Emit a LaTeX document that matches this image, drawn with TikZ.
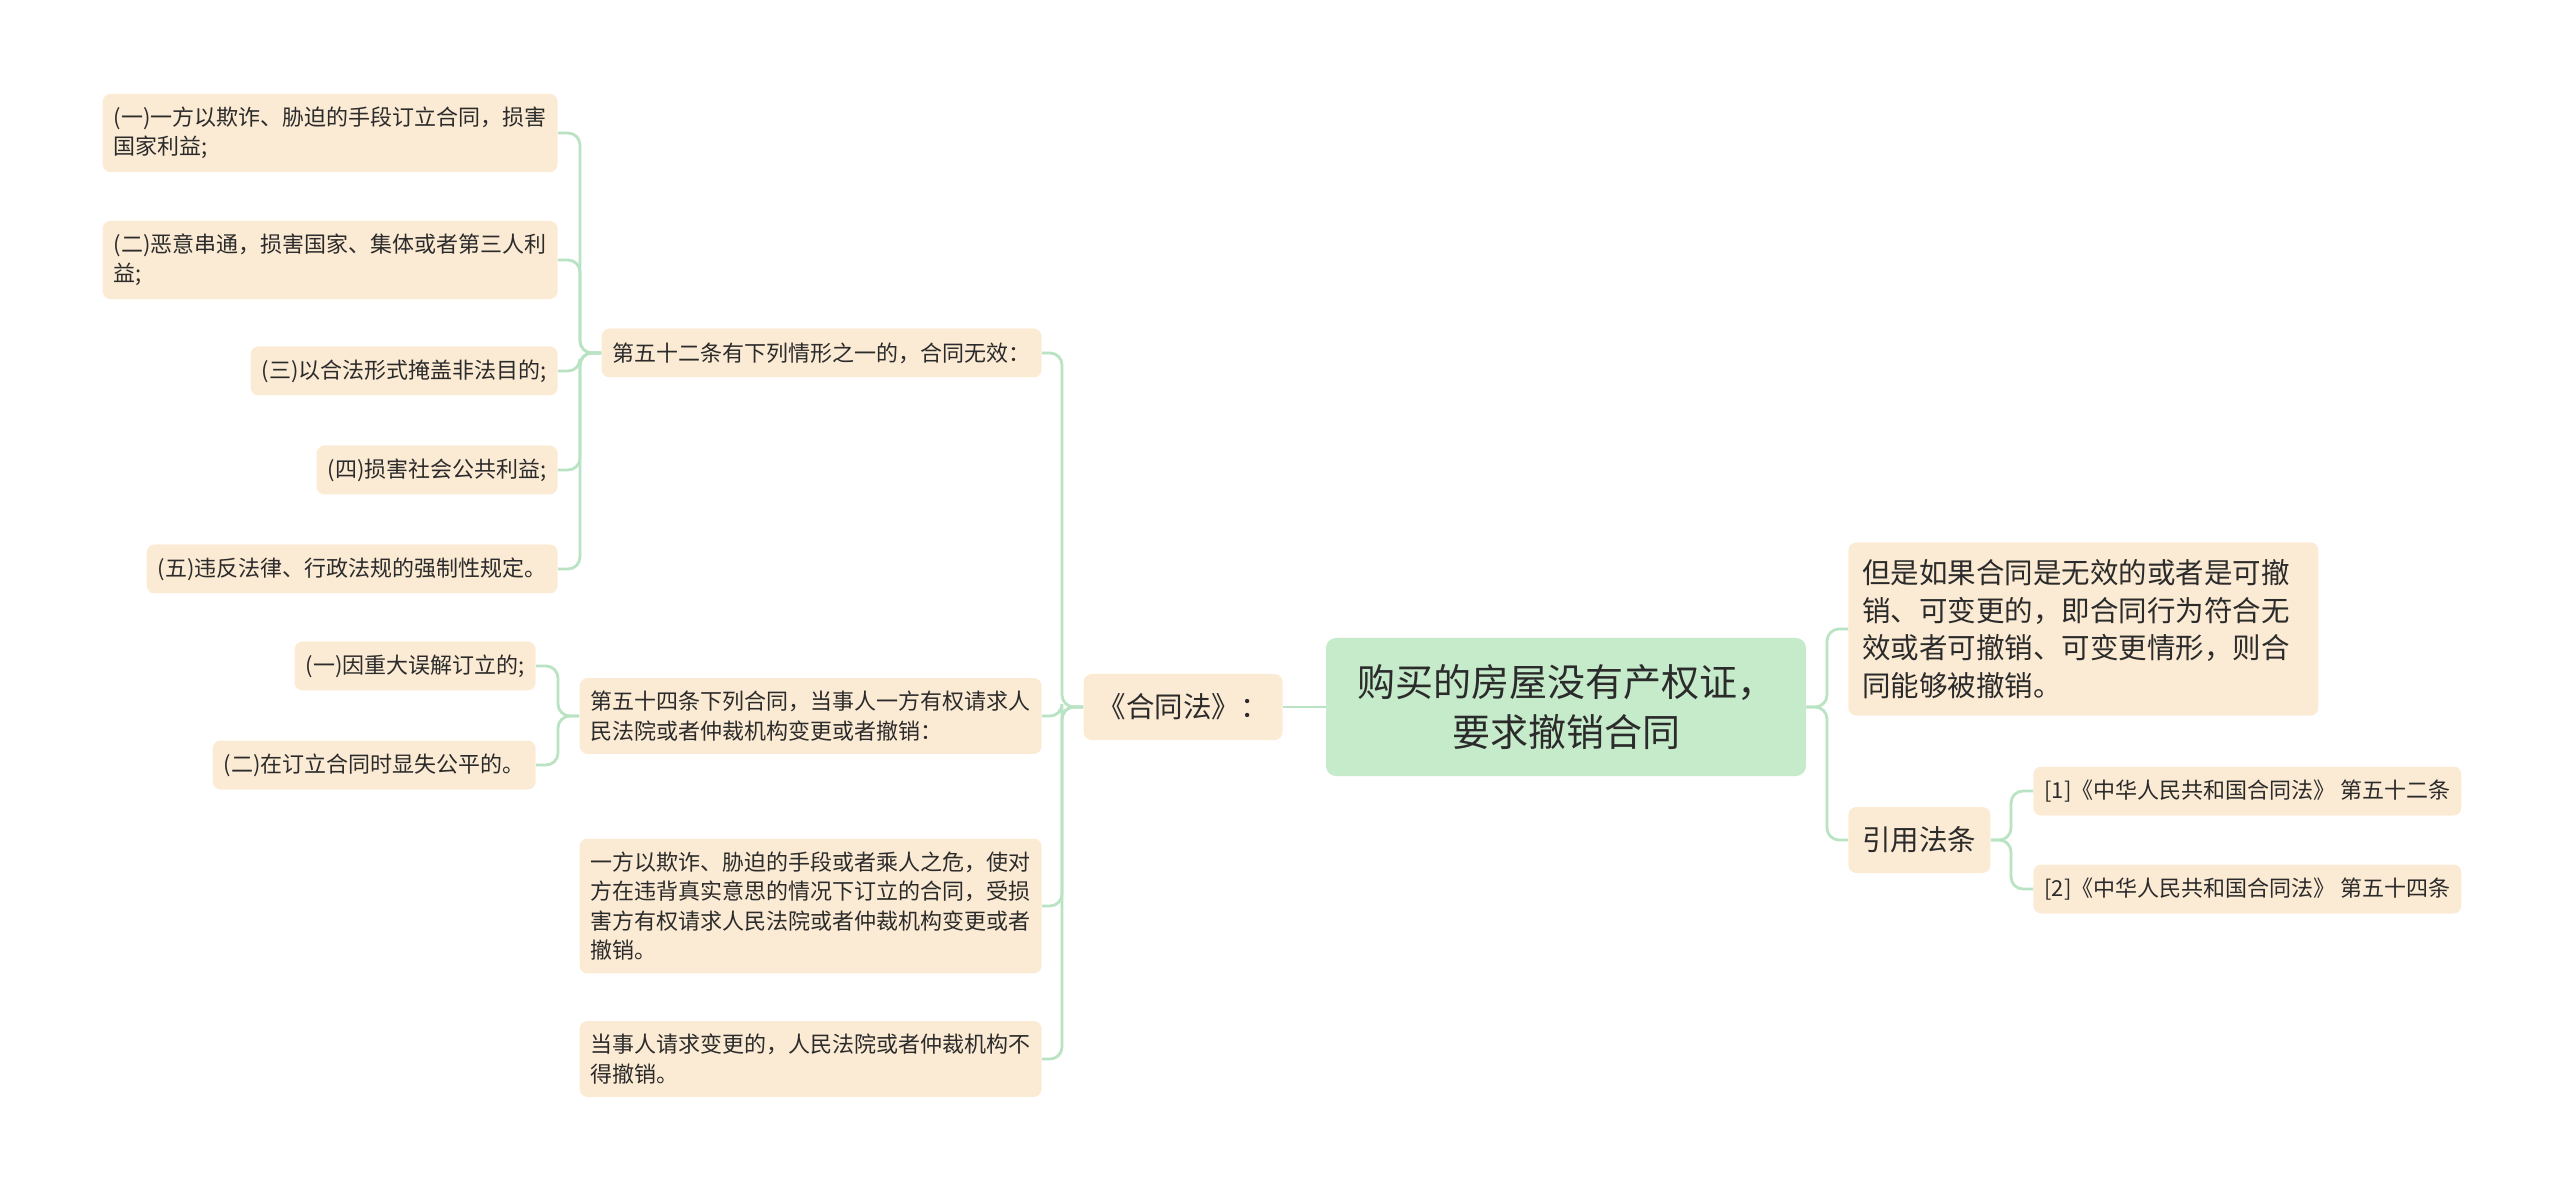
\documentclass[tikz,border=0pt]{standalone}
\usepackage{fontspec}
\setmainfont{Noto Sans CJK SC}
\usepackage{xcolor}
\usepackage{tikz}
\definecolor{peach}{HTML}{FCEBD4}
\definecolor{mint}{HTML}{C6EBCB}
\definecolor{twig}{HTML}{B9E3C3}
\definecolor{ink}{HTML}{2B2B2B}
\tikzset{box/.style={fill=peach, rounded corners=4pt, text=ink, align=left,
                     inner xsep=5.5pt, inner ysep=6.5pt},
         leaf/.style={box, font=\fontsize{11pt}{14.75pt}\selectfont, minimum height=24.5pt},
         topic/.style={box, font=\fontsize{14.25pt}{18.8pt}\selectfont,
                       inner xsep=7pt, inner ysep=8.5pt, minimum height=33pt},
         rootbox/.style={fill=mint, rounded corners=5pt, text=ink, align=center,
                         font=\fontsize{19pt}{25.3pt}\selectfont,
                         minimum width=240pt, minimum height=69pt},
         link/.style={draw=twig, line width=1.4pt, rounded corners=6pt}}

\begin{document}
\begin{tikzpicture}[x=0.5pt,y=-0.5pt]
\useasboundingbox (0,0) rectangle (2560,1197);
\node[rootbox] (root) at (1566,707) {购买的房屋没有产权证，\\要求撤销合同};
\node[topic, anchor=east] (law) at (1283,707) {《合同法》：};
\node[topic, anchor=west, text width=221pt] (note) at (1848,629) {但是如果合同是无效的或者是可撤\\销、可变更的，即合同行为符合无\\效或者可撤销、可变更情形，则合\\同能够被撤销。};
\node[topic, anchor=west] (cite) at (1848,840) {引用法条};
\node[leaf, anchor=west] (cite1) at (2033,791) {[1]《中华人民共和国合同法》 第五十二条};
\node[leaf, anchor=west] (cite2) at (2033,889) {[2]《中华人民共和国合同法》 第五十四条};

\node[leaf, anchor=east] (art52) at (1042,353) {第五十二条有下列情形之一的，合同无效：};
\node[leaf, anchor=east] (art54) at (1042,716) {第五十四条下列合同，当事人一方有权请求人\\民法院或者仲裁机构变更或者撤销：};
\node[leaf, anchor=east] (fraud) at (1042,906) {一方以欺诈、胁迫的手段或者乘人之危，使对\\方在违背真实意思的情况下订立的合同，受损\\害方有权请求人民法院或者仲裁机构变更或者\\撤销。};
\node[leaf, anchor=east] (change) at (1042,1059) {当事人请求变更的，人民法院或者仲裁机构不\\得撤销。};

\node[leaf, anchor=east] (inv1) at (558,133) {(一)一方以欺诈、胁迫的手段订立合同，损害\\国家利益;};
\node[leaf, anchor=east] (inv2) at (558,260) {(二)恶意串通，损害国家、集体或者第三人利\\益;};
\node[leaf, anchor=east] (inv3) at (558,371) {(三)以合法形式掩盖非法目的;};
\node[leaf, anchor=east] (inv4) at (558,470) {(四)损害社会公共利益;};
\node[leaf, anchor=east] (inv5) at (558,569) {(五)违反法律、行政法规的强制性规定。};
\node[leaf, anchor=east] (rev1) at (536,666) {(一)因重大误解订立的;};
\node[leaf, anchor=east] (rev2) at (536,765) {(二)在订立合同时显失公平的。};

\draw[link] (root.west) -- (law.east);
\coordinate (jlaw) at (1062,707);
\foreach \n in {art52,art54,fraud,change}
  \draw[link] (\n.east) -| (jlaw) -- (law.west);
\coordinate (jroot) at (1827,707);
\foreach \n in {note,cite}
  \draw[link] (root.east) -- (jroot) |- (\n.west);
\coordinate (jcite) at (2011,840);
\foreach \n in {cite1,cite2}
  \draw[link] (cite.east) -- (jcite) |- (\n.west);
\coordinate (j52) at (580,353);
\foreach \n in {inv1,inv2,inv3,inv4,inv5}
  \draw[link] (art52.west) -- (j52) |- (\n.east);
\coordinate (j54) at (558,716);
\foreach \n in {rev1,rev2}
  \draw[link] (art54.west) -- (j54) |- (\n.east);
\end{tikzpicture}
\end{document}
